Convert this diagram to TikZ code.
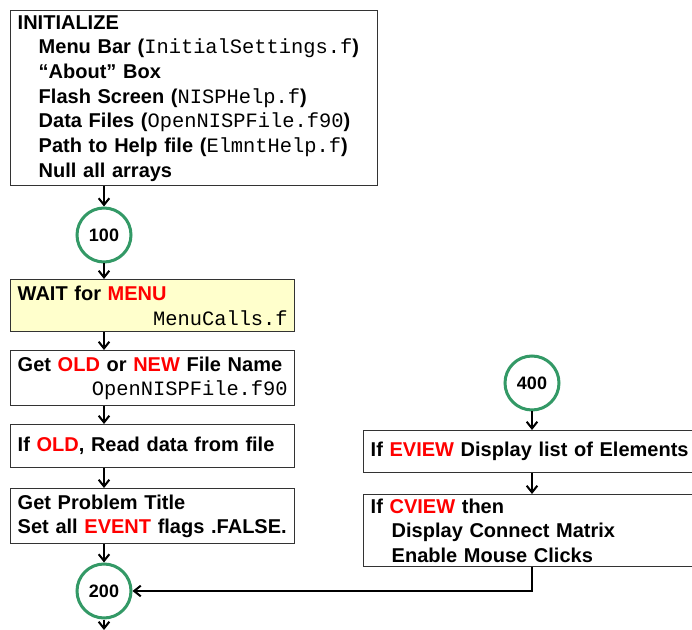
\documentclass[tikz,border=0pt]{standalone}
\usepackage{fontspec}
\setmainfont{Liberation Sans}
\setmonofont{Liberation Mono}
\usetikzlibrary{arrows.meta}
\definecolor{flowgreen}{HTML}{339966}
\definecolor{waitfill}{HTML}{FFFFCC}
\newcommand{\kw}[1]{\textcolor{red}{#1}}
\newcommand{\src}[1]{{\fontsize{15.3}{18.5}\selectfont\ttfamily\mdseries #1}}
\newcommand{\ind}{\hspace*{15.75pt}}
\begin{document}
\begin{tikzpicture}[
    x=0.75pt, y=-0.75pt,
    >={Straight Barb[length=5pt,width=8pt]},
    font=\fontsize{15}{18.5}\selectfont\bfseries,
    stepbox/.style={draw=black!80,line width=1.1pt,fill=white,anchor=north west,
        align=left,inner xsep=5.25pt,inner ysep=0pt},
    conn/.style={circle,draw=flowgreen,line width=2.25pt,fill=white,minimum size=40.5pt,
        inner sep=0pt,font=\fontsize{13.5}{15}\selectfont\bfseries},
    flow/.style={->,line width=1.5pt}
]
\useasboundingbox (0,0) rectangle (692,630);

% main column
\node[stepbox,text width=264.75pt,minimum height=131.25pt] (init) at (10,10)
    {INITIALIZE\\
     \ind Menu Bar (\src{InitialSettings.f})\\
     \ind “About” Box\\
     \ind Flash Screen (\src{NISPHelp.f})\\
     \ind Data Files (\src{OpenNISPFile.f90})\\
     \ind Path to Help file (\src{ElmntHelp.f})\\
     \ind Null all arrays};
\node[conn] (c100) at (104,235) {100};
\node[stepbox,fill=waitfill,text width=202.5pt,minimum height=39pt] (wait) at (10,279)
    {WAIT for \kw{MENU}\\ \hspace*{\fill}\src{MenuCalls.f}};
\node[stepbox,text width=202.5pt,minimum height=41.25pt] (getold) at (10,350)
    {Get \kw{OLD} or \kw{NEW} File Name\\ \hspace*{\fill}\src{OpenNISPFile.f90}};
\node[stepbox,text width=202.5pt,minimum height=32.25pt] (ifold) at (10,424)
    {If \kw{OLD}, Read data from file};
\node[stepbox,text width=202.5pt,minimum height=41.25pt] (title) at (10,488)
    {Get Problem Title\\ Set all \kw{EVENT} flags .FALSE.};
\node[conn] (c200) at (104,591) {200};
\coordinate (exit) at (104,630);

% view branch
\node[conn] (c400) at (532,383) {400};
\node[stepbox,text width=244.5pt,minimum height=31.5pt] (eview) at (363,430)
    {If \kw{EVIEW} Display list of Elements};
\node[stepbox,text width=244.5pt,minimum height=54pt] (cview) at (363,494)
    {If \kw{CVIEW} then\\ \ind Display Connect Matrix\\ \ind Enable Mouse Clicks};

\draw[flow] (init.south -| c100) -- (c100);
\draw[flow] (c100) -- (wait.north -| c100);
\draw[flow] (wait.south -| c100) -- (getold.north -| c100);
\draw[flow] (getold.south -| c100) -- (ifold.north -| c100);
\draw[flow] (ifold.south -| c100) -- (title.north -| c100);
\draw[flow] (title.south -| c100) -- (c200);
\draw[flow] (c200) -- (exit);
\draw[flow] (c400) -- (eview.north -| c400);
\draw[flow] (eview.south -| c400) -- (cview.north -| c400);
\draw[flow] (cview.south -| c400) |- (c200);
\end{tikzpicture}
\end{document}
